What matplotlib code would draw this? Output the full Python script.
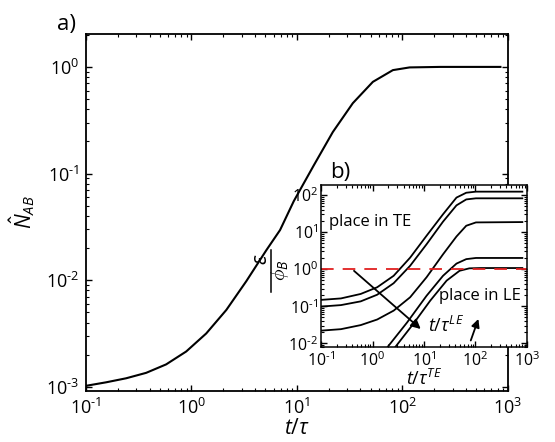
import matplotlib
matplotlib.use("Agg")
import matplotlib.pyplot as plt
from matplotlib.ticker import LogLocator, NullFormatter
from matplotlib.lines import Line2D

plt.rcParams['font.family'] = ['Open Sans', 'DejaVu Sans']
plt.rcParams['mathtext.fontset'] = 'custom'
plt.rcParams['mathtext.rm'] = 'Open Sans'
plt.rcParams['mathtext.it'] = 'Open Sans:italic'
plt.rcParams['mathtext.bf'] = 'Open Sans:bold'

# ---- main panel data ----
t_main = [0.1, 0.155, 0.24, 0.372, 0.575, 0.891, 1.38, 2.14, 3.31, 5.13, 6.92,
          9.33, 14.5, 21.9, 33.9, 52.5, 81.3, 117, 229, 851]
n_main = [0.00102, 0.0011, 0.0012, 0.00135, 0.00162, 0.00214, 0.00316, 0.00525,
          0.00977, 0.0191, 0.0295, 0.055, 0.120, 0.245, 0.457, 0.724, 0.933,
          0.989, 1.0, 1.0]

# ---- inset data ----
t_in = [0.1, 0.243, 0.589, 1.23, 2.57, 5.37, 11.2, 23.4, 42.7, 66.1, 102, 813]
eps1 = [0.148, 0.162, 0.214, 0.324, 0.661, 2.04, 7.94, 30.2, 85.1, 115, 123, 123]
eps2 = [0.0977, 0.107, 0.135, 0.204, 0.417, 1.23, 4.68, 19.1, 52.5, 75.9, 81.3, 81.3]
eps3 = [0.0219, 0.024, 0.0309, 0.0437, 0.0759, 0.174, 0.603, 2.51, 7.59, 14.8,
        18.2, 18.6]
t_in4 = [1.41, 2.04, 4.68, 11.2, 23.4, 42.7, 66.1, 102, 813]
eps4 = [0.00398, 0.00851, 0.0363, 0.191, 0.661, 1.41, 1.86, 2.0, 2.0]
t_in5 = [2.0, 2.88, 6.17, 13.2, 27.5, 49.0, 75.9, 126, 813]
eps5 = [0.00427, 0.00851, 0.0331, 0.141, 0.490, 0.902, 1.05, 1.07, 1.07]
threshold = 1.0

x_ticks = [0.1, 1, 10, 100, 1000]
x_ticklabels = [r'$10^{\text{-}1}$', r'$10^{0}$', r'$10^{1}$', r'$10^{2}$', r'$10^{3}$']
y_ticks_main = [0.001, 0.01, 0.1, 1]
y_ticklabels_main = [r'$10^{\text{-}3}$', r'$10^{\text{-}2}$', r'$10^{\text{-}1}$', r'$10^{0}$']
y_ticks_in = [0.01, 0.1, 1, 10, 100]
y_ticklabels_in = [r'$10^{\text{-}2}$', r'$10^{\text{-}1}$', r'$10^{0}$', r'$10^{1}$', r'$10^{2}$']

fig = plt.figure(figsize=(5.55, 4.42), dpi=100)

def style(ax, lw, fs):
    for s in ax.spines.values():
        s.set_linewidth(lw)
    ax.tick_params(which='both', direction='in', top=True, right=True,
                   labelsize=fs, pad=5)
    ax.tick_params(which='major', length=4.5, width=1)
    ax.tick_params(which='minor', length=2.5, width=0.8)
    ax.xaxis.set_minor_locator(LogLocator(base=10, subs=range(2, 10), numticks=20))
    ax.yaxis.set_minor_locator(LogLocator(base=10, subs=range(2, 10), numticks=20))
    ax.xaxis.set_minor_formatter(NullFormatter())
    ax.yaxis.set_minor_formatter(NullFormatter())

ax = fig.add_axes([0.155, 0.1154, 0.760, 0.808])
ax.plot(t_main, n_main, color='black', lw=1.5)
ax.set_xscale('log')
ax.set_yscale('log')
ax.set_xlim(0.1, 1000)
ax.set_ylim(10**-3.04, 10**0.31)
style(ax, 1.3, 13)
ax.set_xticks(x_ticks)
ax.set_xticklabels(x_ticklabels)
ax.set_yticks(y_ticks_main)
ax.set_yticklabels(y_ticklabels_main)
ax.set_xlabel(r'$t/\tau$', fontsize=15, labelpad=0)
ax.set_ylabel(r'$\hat{N}_{AB}$', fontsize=15, labelpad=6)
fig.text(0.103, 0.945, 'a)', fontsize=16, ha='left', va='center')

axi = fig.add_axes([0.5785, 0.215, 0.371, 0.3665])
axi.plot(t_in, eps1, color='black', lw=1.3)
axi.plot(t_in, eps2, color='black', lw=1.3)
axi.plot(t_in, eps3, color='black', lw=1.3)
axi.plot(t_in4, eps4, color='black', lw=1.3)
axi.plot(t_in5, eps5, color='black', lw=1.3)
axi.axhline(threshold, color='#e02020', lw=1.3, ls=(0, (7, 5)))
axi.set_xscale('log')
axi.set_yscale('log')
axi.set_xlim(0.1, 1000)
axi.set_ylim(10**-2.1, 10**2.27)
style(axi, 1.1, 11.5)
axi.tick_params(which='both', pad=2)
axi.tick_params(axis='x', which='both', pad=3)
axi.set_xticks(x_ticks)
axi.set_xticklabels(x_ticklabels)
axi.set_yticks(y_ticks_in)
axi.set_yticklabels(y_ticklabels_in)
axi.set_xlabel(r'$t/\tau^{TE}$', fontsize=13, labelpad=-1)

# inset y label: fraction epsilon / phi_B, rotated
fig.text(0.472, 0.413, r'$\varepsilon$', rotation=90, fontsize=15,
         ha='center', va='center')
fig.add_artist(Line2D([0.489, 0.489], [0.339, 0.434], transform=fig.transFigure,
                      color='black', lw=1.1))
fig.text(0.504, 0.388, r'$\phi_B$', rotation=90, fontsize=14,
         ha='center', va='center')

axi.text(0.04, 0.77, 'place in TE', transform=axi.transAxes, fontsize=12,
         ha='left', va='center')
axi.text(0.97, 0.317, 'place in LE', transform=axi.transAxes, fontsize=12,
         ha='right', va='center')
axi.annotate('', xy=(0.484, 0.111), xytext=(0.16, 0.47), xycoords='axes fraction',
             arrowprops=dict(arrowstyle='-|>', color='black', lw=1.3,
                             mutation_scale=14, shrinkA=0, shrinkB=0))
axi.text(0.52, 0.13, r'$t/\tau^{LE}$', transform=axi.transAxes, fontsize=13,
         ha='left', va='center')
axi.annotate('', xy=(0.764, 0.173), xytext=(0.727, 0.04), xycoords='axes fraction',
             arrowprops=dict(arrowstyle='-|>', color='black', lw=1.3,
                             mutation_scale=12, shrinkA=0, shrinkB=0))
fig.text(0.594, 0.61, 'b)', fontsize=16, ha='left', va='center')

fig.savefig('out.png', dpi=100)
